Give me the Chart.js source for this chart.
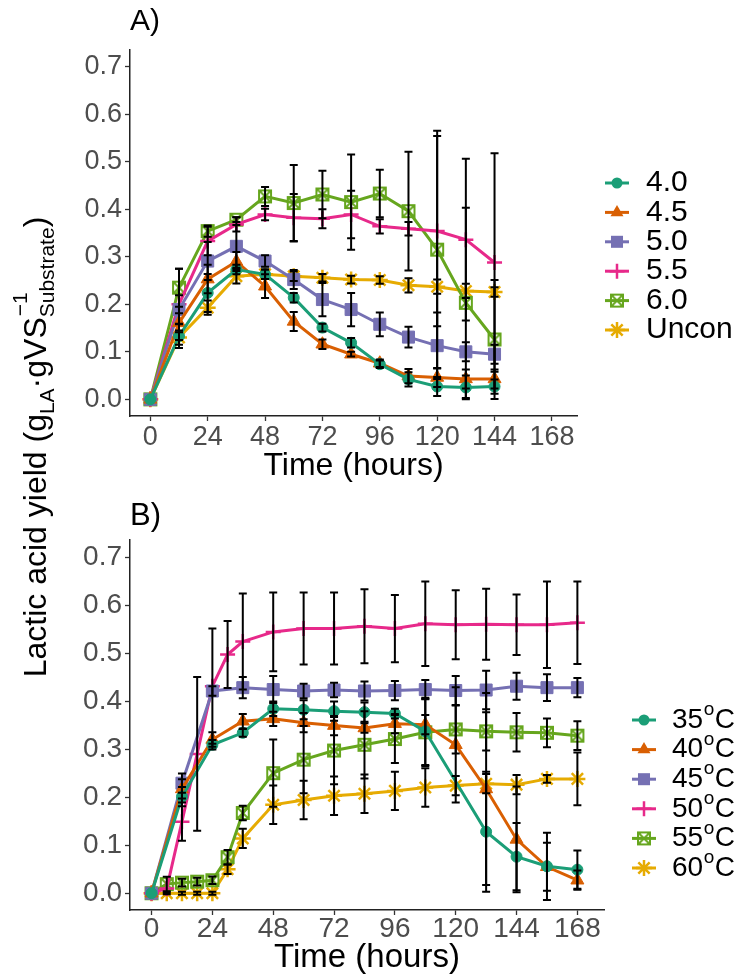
<!DOCTYPE html>
<html>
<head>
<meta charset="utf-8">
<script src="https://cdn.jsdelivr.net/npm/chart.js@4.4.1/dist/chart.umd.min.js"></script>
<style>
body { margin: 0; background: #fff; }
#wrap { position: relative; width: 739px; height: 979px; overflow: hidden; font-family: "Liberation Sans", Arial, sans-serif; }
#chartA { position: absolute; left: 0; top: 0; }
#chartB { position: absolute; left: 0; top: 490px; }
#ytitle { position: absolute; left: -265px; top: 428px; width: 600px; height: 38px; line-height: 38px; text-align: center; font-size: 32px; color: #000; white-space: nowrap; transform: rotate(-90deg); }
#ytitle .sub { font-size: 21px; position: relative; top: 8px; }
#ytitle .stack { position: relative; display: inline-block; }
#ytitle .sup { position: absolute; left: 1px; top: -15px; font-size: 21px; }
</style>
</head>
<body>
<div id="wrap">
  <canvas id="chartA" width="739" height="490"></canvas>
  <canvas id="chartB" width="739" height="489"></canvas>
  <div id="ytitle">Lactic acid yield (g<span class="sub">LA</span>·gVS<span class="stack"><span class="sub">Substrate</span><span class="sup">−1</span></span>)</div>
</div>
<script>
// ---- data ----
var xTicks = [0, 24, 48, 72, 96, 120, 144, 168];
var yTicks = [0, 0.1, 0.2, 0.3, 0.4, 0.5, 0.6, 0.7];

// A) pH
var timeA = [0, 12, 24, 36, 48, 60, 72, 84, 96, 108, 120, 132, 144];
var labelsA = ['4.0', '4.5', '5.0', '5.5', '6.0', 'Uncon'];
var ph40 = [0, 0.133, 0.224, 0.273, 0.263, 0.214, 0.151, 0.119, 0.074, 0.042, 0.027, 0.025, 0.027];
var ph40Err = [0, 0.025, 0.04, 0.01, 0.01, 0.01, 0.008, 0.01, 0.008, 0.015, 0.02, 0.025, 0.015];
var ph45 = [0, 0.161, 0.253, 0.29, 0.238, 0.164, 0.116, 0.095, 0.076, 0.049, 0.046, 0.043, 0.043];
var ph45Err = [0, 0.02, 0.03, 0.02, 0.025, 0.02, 0.01, 0.005, 0.008, 0.015, 0.02, 0.02, 0.02];
var ph50 = [0, 0.189, 0.291, 0.322, 0.291, 0.252, 0.21, 0.189, 0.158, 0.131, 0.113, 0.1, 0.095];
var ph50Err = [0, 0.03, 0.04, 0.045, 0.012, 0.02, 0.035, 0.035, 0.025, 0.022, 0.07, 0.02, 0.02];
var ph55 = [0, 0.2, 0.333, 0.368, 0.389, 0.382, 0.38, 0.389, 0.364, 0.359, 0.354, 0.336, 0.288];
var ph55Err = [0, 0.075, 0.03, 0.015, 0.012, 0.05, 0.02, 0.05, 0.015, 0.014, 0.2, 0.17, 0.23];
var ph60 = [0, 0.235, 0.354, 0.378, 0.427, 0.413, 0.431, 0.415, 0.433, 0.396, 0.315, 0.203, 0.126];
var ph60Err = [0, 0.04, 0.012, 0.005, 0.02, 0.08, 0.05, 0.1, 0.05, 0.125, 0.25, 0.2, 0.125];
var uncon = [0, 0.13, 0.193, 0.259, 0.263, 0.259, 0.256, 0.252, 0.251, 0.24, 0.237, 0.228, 0.226];
var unconErr = [0, 0.015, 0.015, 0.015, 0.01, 0.01, 0.008, 0.008, 0.008, 0.015, 0.015, 0.015, 0.01];

// B) temperature
var labelsB = ['35°C', '40°C', '45°C', '50°C', '55°C', '60°C'];
var timeB = [0, 6, 12, 18, 24, 30, 36, 48, 60, 72, 84, 96, 108, 120, 132, 144, 156, 168];
var timeB12 = [0, 12, 24, 36, 48, 60, 72, 84, 96, 108, 120, 132, 144, 156, 168];
var timeB35 = [0, 12, 24, 36, 48, 60, 72, 84, 96, 108, 132, 144, 156, 168];
var t35 = [0, 0.201, 0.309, 0.334, 0.384, 0.382, 0.379, 0.377, 0.374, 0.337, 0.128, 0.076, 0.056, 0.049];
var t35Err = [0, 0.02, 0.01, 0.008, 0.015, 0.02, 0.02, 0.02, 0.01, 0.07, 0.125, 0.07, 0.07, 0.04];
var t40 = [0, 0.217, 0.32, 0.358, 0.363, 0.355, 0.349, 0.344, 0.353, 0.351, 0.309, 0.217, 0.112, 0.055, 0.027];
var t40Err = [0, 0.02, 0.015, 0.015, 0.015, 0.02, 0.02, 0.01, 0.02, 0.02, 0.12, 0.2, 0.11, 0.05, 0.02];
var t45 = [0, 0.229, 0.421, 0.428, 0.424, 0.421, 0.423, 0.421, 0.422, 0.424, 0.422, 0.423, 0.431, 0.428, 0.428];
var t45Err = [0, 0.02, 0.01, 0.022, 0.028, 0.015, 0.015, 0.02, 0.02, 0.02, 0.03, 0.04, 0.028, 0.028, 0.02];
var t50 = [0, 0.01, 0.149, 0.29, 0.431, 0.497, 0.524, 0.544, 0.551, 0.551, 0.556, 0.551, 0.561, 0.559, 0.56, 0.559, 0.559, 0.563];
var t50Err = [0, 0, 0.04, 0.16, 0.12, 0.07, 0.1, 0.082, 0.075, 0.075, 0.077, 0.07, 0.088, 0.072, 0.074, 0.063, 0.09, 0.086];
var t55 = [0, 0.019, 0.022, 0.024, 0.027, 0.075, 0.167, 0.25, 0.278, 0.297, 0.309, 0.321, 0.335, 0.341, 0.337, 0.335, 0.334, 0.328];
var t55Err = [0, 0.015, 0.008, 0.008, 0.008, 0.015, 0.015, 0.07, 0.07, 0.07, 0.07, 0.05, 0.07, 0.05, 0.04, 0.04, 0.03, 0.03];
var t60 = [0, 0, 0, 0, 0, 0.05, 0.114, 0.184, 0.194, 0.203, 0.207, 0.213, 0.22, 0.224, 0.228, 0.226, 0.238, 0.238];
var t60Err = [0, 0.002, 0.003, 0.003, 0.003, 0.01, 0.02, 0.04, 0.04, 0.04, 0.04, 0.04, 0.04, 0.02, 0.02, 0.02, 0.008, 0.055];

var colors = ['#1B9E77', '#D95F02', '#7570B3', '#E7298A', '#66A61E', '#E6AB02'];
var FONT = '"Liberation Sans", Arial, sans-serif';

// open square with an X in it (ggplot shape 7)
var boxX = document.createElement('canvas');
boxX.width = 16; boxX.height = 16;
(function(){
    var g = boxX.getContext('2d');
    g.strokeStyle = colors[4];
    g.lineWidth = 2;
    g.strokeRect(2, 2, 12, 12);
    g.beginPath();
    g.moveTo(2, 2); g.lineTo(14, 14);
    g.moveTo(14, 2); g.lineTo(2, 14);
    g.stroke();
})();

var styles = ['circle', 'triangle', 'rect', 'cross', boxX, 'star'];
var radii = [5.5, 7.5, 8.5, 7.5, 7, 8];

function drawMark(g, style, x, y, r, color){
    g.save();
    g.fillStyle = color;
    g.strokeStyle = color;
    g.lineWidth = 2.5;
    g.beginPath();
    if(style === 'circle'){
        g.arc(x, y, r, 0, Math.PI * 2);
        g.fill();
    }else if(style === 'triangle'){
        for(var k = 0; k < 3; k++){
            var a = k * 2 * Math.PI / 3;
            g.lineTo(x + Math.sin(a) * r, y - Math.cos(a) * r);
        }
        g.closePath();
        g.fill();
    }else if(style === 'rect'){
        var s = r / Math.SQRT2;
        g.fillRect(x - s, y - s, 2 * s, 2 * s);
    }else if(style === 'cross' || style === 'star'){
        g.moveTo(x, y - r); g.lineTo(x, y + r);
        g.moveTo(x - r, y); g.lineTo(x + r, y);
        if(style === 'star'){
            var d = r * Math.SQRT1_2;
            g.moveTo(x - d, y - d); g.lineTo(x + d, y + d);
            g.moveTo(x + d, y - d); g.lineTo(x - d, y + d);
        }
        g.stroke();
    }else{
        g.drawImage(style, x - style.width / 2, y - style.height / 2);
    }
    g.restore();
}

function series(label, i, times, vals, errs){
    return {
        label: label,
        data: times.map(function(t, k){ return {x: t, y: vals[k]}; }),
        err: errs,
        borderColor: colors[i],
        backgroundColor: colors[i],
        borderWidth: 3,
        pointStyle: styles[i],
        pointRadius: radii[i],
        pointBorderWidth: (i == 3 || i == 5) ? 2.5 : 1,
        pointHoverRadius: radii[i],
        tension: 0,
        fill: false
    };
}

var errorBars = {
    id: 'errorBars',
    afterDatasetsDraw: function(chart){
        var ctx = chart.ctx, xs = chart.scales.x, ys = chart.scales.y;
        ctx.save();
        ctx.strokeStyle = '#000';
        ctx.lineWidth = 2;
        chart.data.datasets.forEach(function(ds){
            ds.data.forEach(function(p, k){
                var e = ds.err[k];
                if(!e) return;
                var x = xs.getPixelForValue(p.x);
                var y1 = ys.getPixelForValue(p.y - e);
                var y2 = ys.getPixelForValue(p.y + e);
                ctx.beginPath();
                ctx.moveTo(x, y1); ctx.lineTo(x, y2);
                ctx.moveTo(x - 4, y1); ctx.lineTo(x + 4, y1);
                ctx.moveTo(x - 4, y2); ctx.lineTo(x + 4, y2);
                ctx.stroke();
            });
        });
        ctx.restore();
    }
};

// ggplot-like legend: line + marker, label to the right
var sideLegend = {
    id: 'sideLegend',
    afterDraw: function(chart, args, o){
        var ctx = chart.ctx;
        ctx.save();
        chart.data.datasets.forEach(function(ds, i){
            var y = o.top + i * o.pitch;
            ctx.strokeStyle = colors[i];
            ctx.lineWidth = 3;
            ctx.beginPath();
            ctx.moveTo(o.x - 12, y); ctx.lineTo(o.x + 12, y);
            ctx.stroke();
            drawMark(ctx, styles[i], o.x, y, radii[i], colors[i]);
            ctx.fillStyle = '#000';
            ctx.textBaseline = 'middle';
            ctx.textAlign = 'left';
            ctx.font = o.size + 'px ' + FONT;
            var parts = ds.label.split('°');
            ctx.fillText(parts[0], o.textX, y);
            if(parts.length > 1){
                var w = ctx.measureText(parts[0]).width;
                ctx.font = Math.round(o.size * 0.68) + 'px ' + FONT;
                ctx.fillText('o', o.textX + w + 0.5, y - o.size * 0.36);
                var w2 = ctx.measureText('o').width;
                ctx.font = o.size + 'px ' + FONT;
                ctx.fillText(parts[1], o.textX + w + w2 + 1, y);
            }
        });
        ctx.restore();
    }
};

function makeChart(id, cfg){
    return new Chart(document.getElementById(id), {
        type: 'line',
        data: { datasets: cfg.datasets },
        options: {
            responsive: false,
            animation: false,
            events: [],
            layout: { padding: { left: 0, right: cfg.right, top: 0, bottom: 0 } },
            plugins: {
                legend: { display: false },
                tooltip: { enabled: false },
                title: {
                    display: true,
                    text: cfg.title,
                    align: 'start',
                    fullSize: false,
                    color: '#000',
                    font: { family: FONT, size: cfg.titleSize, weight: 'normal' },
                    padding: cfg.titlePad
                },
                sideLegend: cfg.legend
            },
            scales: {
                x: {
                    type: 'linear',
                    min: -8.5,
                    max: 178.5,
                    afterBuildTicks: function(s){ s.ticks = xTicks.map(function(v){ return {value: v}; }); },
                    afterFit: function(s){ s.height = cfg.xHeight; },
                    grid: { display: true, drawOnChartArea: false, drawTicks: true, tickLength: 5, tickColor: '#333', tickWidth: 1.3 },
                    border: { display: true, color: '#222', width: 1.5 },
                    ticks: { color: '#4D4D4D', font: { family: FONT, size: cfg.tickSize }, padding: cfg.xTickPad, maxRotation: 0 },
                    title: { display: true, text: 'Time (hours)', color: '#000', font: { family: FONT, size: cfg.axisTitleSize }, padding: { top: 0, bottom: cfg.xTitlePad } }
                },
                y: {
                    min: -0.035,
                    max: 0.735,
                    afterBuildTicks: function(s){ s.ticks = yTicks.map(function(v){ return {value: v}; }); },
                    afterFit: function(s){ s.width = 130; },
                    grid: { display: true, drawOnChartArea: false, drawTicks: true, tickLength: 5, tickColor: '#333', tickWidth: 1.3 },
                    border: { display: true, color: '#222', width: 1.5 },
                    ticks: { color: '#4D4D4D', font: { family: FONT, size: cfg.tickSize }, padding: 3, callback: function(v){ return Number(v).toFixed(1); } }
                }
            }
        },
        plugins: [errorBars, sideLegend]
    });
}

makeChart('chartA', {
    title: 'A)',
    titleSize: 30,
    titlePad: { top: 4, bottom: 10 },
    right: 162,
    xHeight: 74,
    tickSize: 27,
    xTickPad: 0,
    axisTitleSize: 32,
    xTitlePad: 5,
    legend: { x: 617, textX: 646, top: 183, pitch: 29.4, size: 30 },
    datasets: [
        series(labelsA[0], 0, timeA, ph40, ph40Err),
        series(labelsA[1], 1, timeA, ph45, ph45Err),
        series(labelsA[2], 2, timeA, ph50, ph50Err),
        series(labelsA[3], 3, timeA, ph55, ph55Err),
        series(labelsA[4], 4, timeA, ph60, ph60Err),
        series(labelsA[5], 5, timeA, uncon, unconErr)
    ]
});

makeChart('chartB', {
    title: 'B)',
    titleSize: 31,
    titlePad: { top: 8, bottom: 5 },
    right: 135,
    xHeight: 69,
    tickSize: 28,
    xTickPad: -3,
    axisTitleSize: 33,
    xTitlePad: 1,
    legend: { x: 644, textX: 672, top: 230, pitch: 29.6, size: 28 },
    datasets: [
        series(labelsB[0], 0, timeB35, t35, t35Err),
        series(labelsB[1], 1, timeB12, t40, t40Err),
        series(labelsB[2], 2, timeB12, t45, t45Err),
        series(labelsB[3], 3, timeB, t50, t50Err),
        series(labelsB[4], 4, timeB, t55, t55Err),
        series(labelsB[5], 5, timeB, t60, t60Err)
    ]
});
</script>
</body>
</html>
